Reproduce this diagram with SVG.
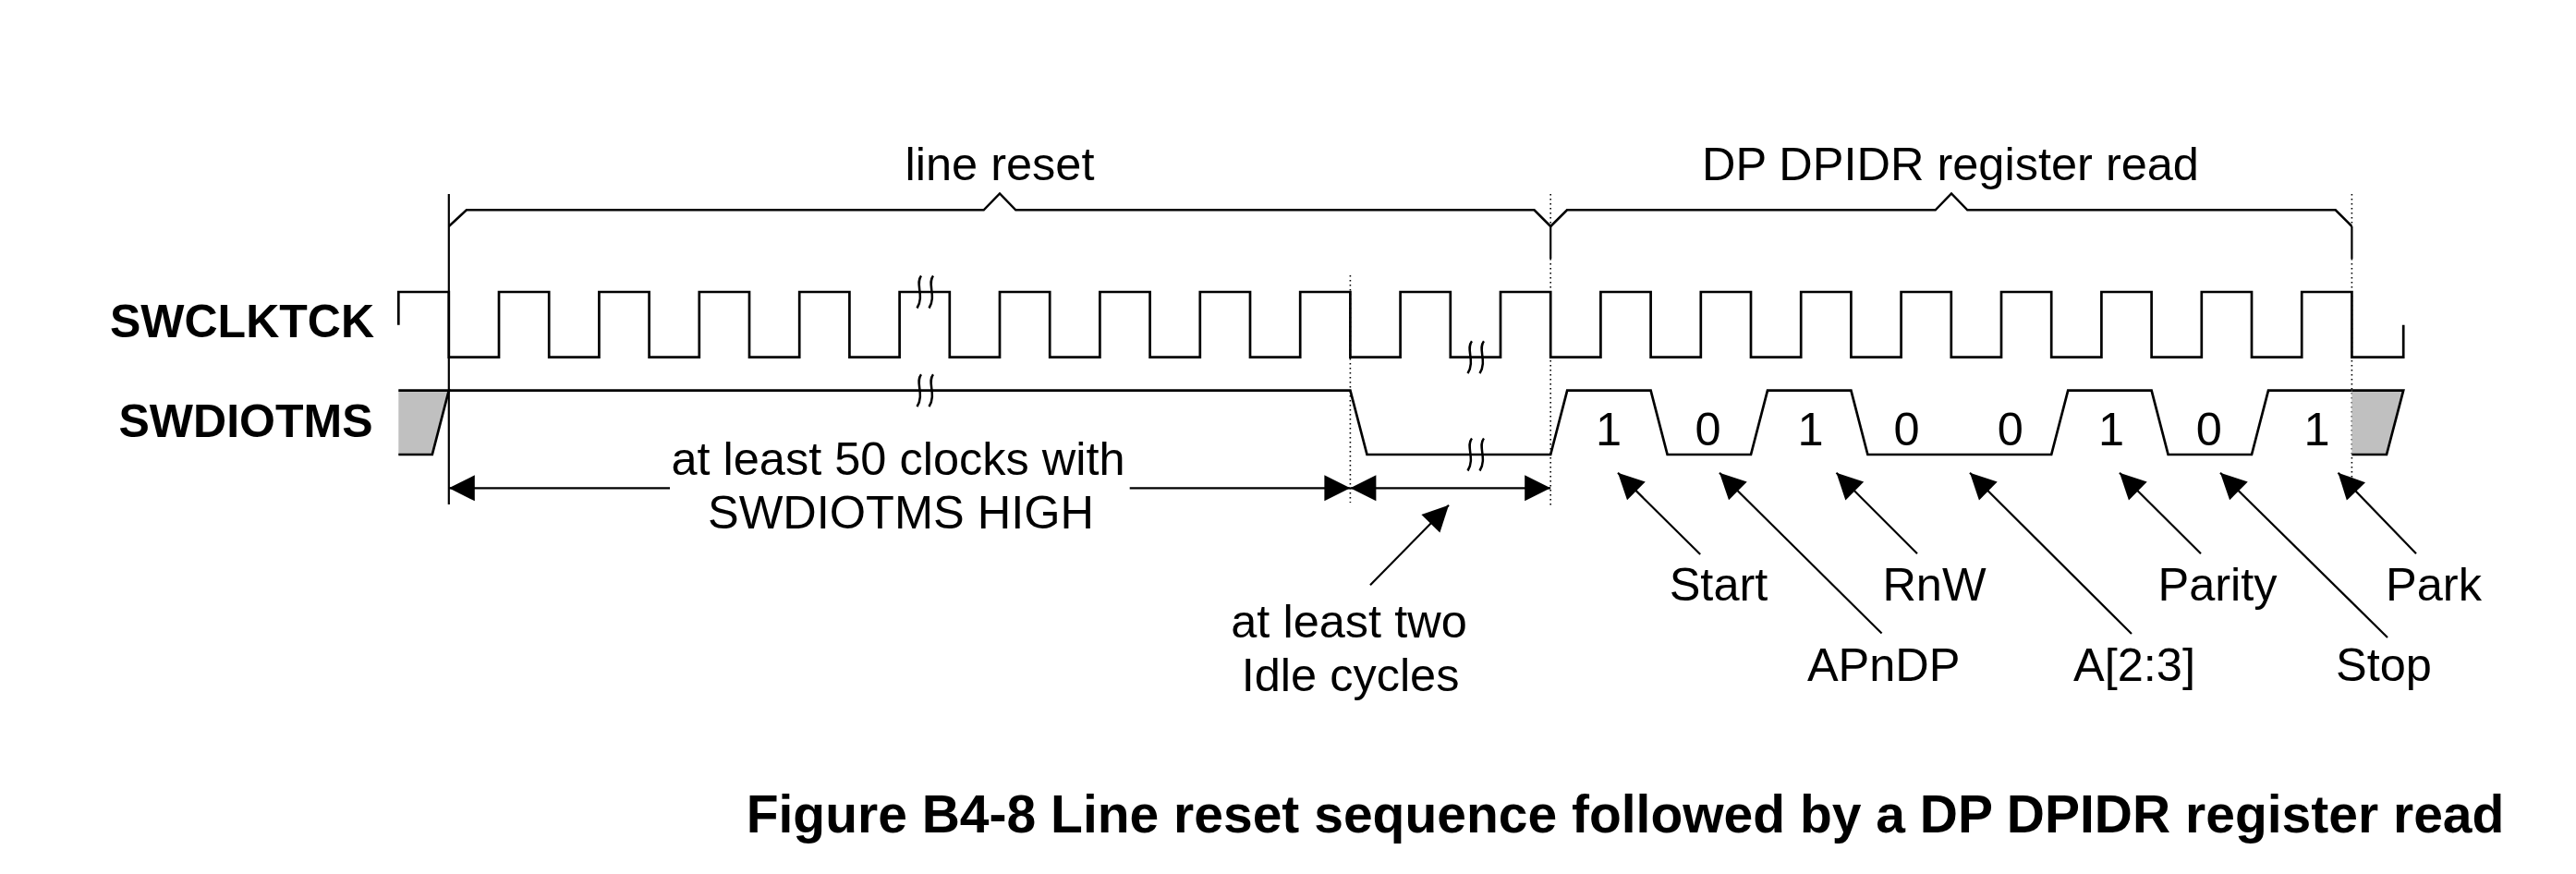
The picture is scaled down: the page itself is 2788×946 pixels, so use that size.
<svg xmlns="http://www.w3.org/2000/svg" xmlns:xlink="http://www.w3.org/1999/xlink" width="2788" height="946" viewBox="0 0 2788 946">
<style>
  .wave { fill: none; stroke: #000; stroke-width: 2.7; stroke-linejoin: miter; }
  .brace { fill: none; stroke: #000; stroke-width: 2.5; stroke-linejoin: miter; }
  .solid { fill: none; stroke: #000; stroke-width: 2.2; }
  .dot { fill: none; stroke: #000; stroke-width: 1.6; stroke-dasharray: 1.6 3.4; }
  .arrow { fill: none; stroke: #000; stroke-width: 2.2; }
  .sq { fill: none; stroke: #000; stroke-width: 2.5; }
  .lbl { font-family: "Liberation Sans", Arial, sans-serif; font-weight: bold; font-size: 50px; fill: #000; }
  .txt { font-family: "Liberation Sans", Arial, sans-serif; font-size: 50.5px; fill: #000; }
  .cap { font-family: "Liberation Sans", Arial, sans-serif; font-weight: bold; font-size: 57px; fill: #000; }
  .gray { fill: #c0c0c0; stroke: none; }
</style>
<defs>
  <marker id="ah" markerUnits="userSpaceOnUse" viewBox="-30 -16 32 32" refX="0" refY="0" markerWidth="32" markerHeight="32" orient="auto-start-reverse">
    <path d="M0,0 L-28,-14 L-28,14 Z" fill="#000"/>
  </marker>
  <g id="brk">
    <path class="sq" d="M-4,-17.5 C-11,-9 0,4 -8.5,17.5"/>
    <path class="sq" d="M9,-17.5 C2,-9 13,4 4.5,17.5"/>
  </g>
</defs>
<rect width="2788" height="946" fill="#fff"/>

<g id="signal-labels">
  <text class="lbl" x="405" y="365" text-anchor="end">SWCLKTCK</text>
  <text class="lbl" x="403.5" y="473" text-anchor="end">SWDIOTMS</text>
</g>

<g id="guides">
  <line class="solid" x1="485.8" y1="210" x2="485.8" y2="546"/>
  <line class="dot" x1="1678.2" y1="210" x2="1678.2" y2="245"/>
  <line class="solid" x1="1678.2" y1="245" x2="1678.2" y2="280"/>
  <line class="dot" x1="1678.2" y1="280" x2="1678.2" y2="547"/>
  <line class="dot" x1="2545.4" y1="210" x2="2545.4" y2="245"/>
  <line class="solid" x1="2545.4" y1="245" x2="2545.4" y2="280"/>
  <line class="dot" x1="2545.4" y1="280" x2="2545.4" y2="522"/>
  <line class="dot" x1="1461.4" y1="298" x2="1461.4" y2="544"/>
</g>

<g id="brace-line-reset">
  <path class="brace" d="M485.8,245 L504.9,227.3 H1064.7 L1082,209.5 L1099.3,227.3 H1660.5 L1678.2,245"/>
  <text class="txt" x="1082" y="195" text-anchor="middle">line reset</text>
</g>
<g id="brace-dpidr-read">
  <path class="brace" d="M1678.2,245 L1696,227.3 H2094.7 L2112,209.5 L2129.3,227.3 H2527.7 L2545.4,245"/>
  <text class="txt" x="2111" y="195" text-anchor="middle">DP DPIDR register read</text>
</g>

<g id="swclktck">
  <path class="wave" d="M431.3,351.7 V316 H485.8 V386.7 H540 V316 H594.2 V386.7 H648.4 V316 H702.6 V386.7 H756.8 V316 H811 V386.7 H865.2 V316 H919.4 V386.7 H973.6 V316 H1027.8 V386.7 H1082 V316 H1136.2 V386.7 H1190.4 V316 H1244.6 V386.7 H1298.8 V316 H1353 V386.7 H1407.2 V316 H1461.4 V386.7 H1515.6 V316 H1569.8 V386.7 H1624 V316 H1678.2 V386.7 H1732.4 V316 H1786.6 V386.7 H1840.8 V316 H1895 V386.7 H1949.2 V316 H2003.4 V386.7 H2057.6 V316 H2111.8 V386.7 H2166 V316 H2220.2 V386.7 H2274.4 V316 H2328.6 V386.7 H2382.8 V316 H2437 V386.7 H2491.2 V316 H2545.4 V386.7 H2601.2 V351.7"/>
  <use xlink:href="#brk" href="#brk" x="1001" y="316"/>
  <use xlink:href="#brk" href="#brk" x="1597" y="386.7"/>
</g>

<g id="swdiotms">
  <polygon class="gray" points="431.3,422.7 485.8,422.7 467.8,492 431.3,492"/>
  <path class="wave" d="M431.3,422.7 H485.8 L467.8,492 H431.3"/>
  <path class="wave" d="M485.8,422.7 H1461.4 L1479.5,492 H1678.2 L1696.2,422.7 H1786.6 L1804.6,492 H1895 L1913,422.7 H2003.4 L2021.4,492 H2220.2 L2238.2,422.7 H2328.6 L2346.6,492 H2437 L2455,422.7 H2545.4"/>
  <polygon class="gray" points="2545.4,422.7 2601.2,422.7 2583,492 2545.4,492"/>
  <path class="wave" d="M2545.4,422.7 H2601.2 L2583,492 H2545.4"/>
  <use xlink:href="#brk" href="#brk" x="1001" y="422.7"/>
  <use xlink:href="#brk" href="#brk" x="1597" y="492"/>
  <g class="txt" text-anchor="middle">
    <text x="1741" y="481.7">1</text>
    <text x="1848.5" y="481.7">0</text>
    <text x="1959.5" y="481.7">1</text>
    <text x="2063.6" y="481.7">0</text>
    <text x="2175.8" y="481.7">0</text>
    <text x="2285" y="481.7">1</text>
    <text x="2390.9" y="481.7">0</text>
    <text x="2507.5" y="481.7">1</text>
  </g>
</g>

<g id="connectors">
  <line class="arrow" x1="725" y1="528.3" x2="485.8" y2="528.3" marker-end="url(#ah)"/>
  <line class="arrow" x1="1222.7" y1="528.3" x2="1461.4" y2="528.3" marker-end="url(#ah)"/>
  <line class="arrow" x1="1461.4" y1="528.3" x2="1678.2" y2="528.3" marker-start="url(#ah)" marker-end="url(#ah)"/>
  <line class="arrow" x1="1483" y1="633.3" x2="1568" y2="546.7" marker-end="url(#ah)"/>
  <line class="arrow" x1="1840.2" y1="600" x2="1751" y2="511.7" marker-end="url(#ah)"/>
  <line class="arrow" x1="2036.6" y1="685.5" x2="1861" y2="511.7" marker-end="url(#ah)"/>
  <line class="arrow" x1="2075" y1="599.3" x2="1987.5" y2="511.7" marker-end="url(#ah)"/>
  <line class="arrow" x1="2307" y1="686" x2="2132" y2="511.7" marker-end="url(#ah)"/>
  <line class="arrow" x1="2382" y1="599.3" x2="2294" y2="511.7" marker-end="url(#ah)"/>
  <line class="arrow" x1="2584" y1="690" x2="2403" y2="511.7" marker-end="url(#ah)"/>
  <line class="arrow" x1="2615" y1="599.3" x2="2530.5" y2="511.7" marker-end="url(#ah)"/>
</g>

<g id="annotation-50-clocks">
  <text class="txt" x="972" y="513.5" text-anchor="middle">at least 50 clocks with</text>
  <text class="txt" x="975" y="571.7" text-anchor="middle">SWDIOTMS HIGH</text>
</g>
<g id="annotation-idle">
  <text class="txt" x="1460" y="690" text-anchor="middle">at least two</text>
  <text class="txt" x="1461.6" y="748" text-anchor="middle">Idle cycles</text>
</g>
<g id="field-labels" class="txt" text-anchor="middle">
  <text x="1860" y="650">Start</text>
  <text x="2093.5" y="650">RnW</text>
  <text x="2400" y="650">Parity</text>
  <text x="2634" y="650">Park</text>
  <text x="2038.7" y="736.7">APnDP</text>
  <text x="2310" y="736.7">A[2:3]</text>
  <text x="2580" y="736.7">Stop</text>
</g>

<g id="caption">
  <text class="cap" x="807.7" y="901">Figure B4-8 Line reset sequence followed by a DP DPIDR register read</text>
</g>
</svg>
